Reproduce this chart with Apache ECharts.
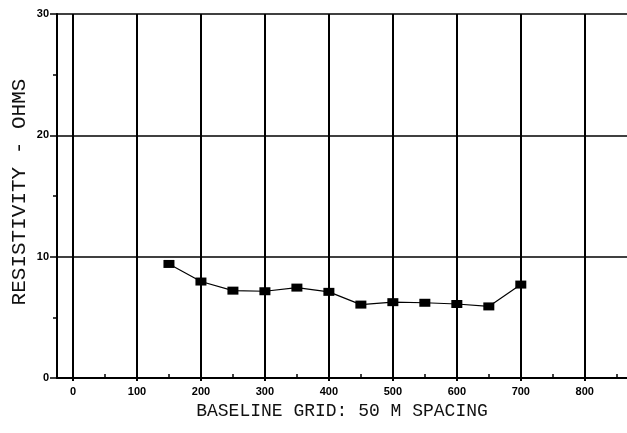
<!DOCTYPE html>
<html>
<head>
<meta charset="utf-8">
<script src="https://cdn.jsdelivr.net/npm/echarts@6/dist/echarts.min.js"></script>
<style>
  html, body { margin: 0; padding: 0; background: #fff; }
  #chart { width: 627px; height: 433px; }
</style>
</head>
<body>
<div id="chart"></div>
<script>
// Station positions along the baseline (m) and measured resistivity (ohms)
const stations = [150, 200, 250, 300, 350, 400, 450, 500, 550, 600, 650, 700];
const resistivity = [9.4, 7.95, 7.2, 7.15, 7.45, 7.1, 6.05, 6.25, 6.2, 6.1, 5.9, 7.7];

// Tick labels
const xMajorTicks = [0, 100, 200, 300, 400, 500, 600, 700, 800];
const xMinorTicks = [50, 150, 250, 350, 450, 550, 650, 750, 850];
const yTicks = [0, 10, 20, 30];

const xTitle = 'BASELINE GRID: 50 M SPACING';
const yTitle = 'RESISTIVITY - OHMS';

const chart = echarts.init(document.getElementById('chart'), null, { renderer: 'canvas' });

const tickFont = { fontFamily: 'Liberation Sans', fontWeight: 'bold', fontSize: 11, color: '#000' };
const titleFont = { fontFamily: 'Liberation Mono', fontSize: 18, color: '#111' };

chart.setOption({
  animation: false,
  backgroundColor: '#fff',
  grid: { left: 57, right: 0, top: 14, bottom: 55, containLabel: false, outerBoundsMode: 'none' },
  xAxis: [
    {
      type: 'value',
      min: -25,
      max: 866,
      name: xTitle,
      nameLocation: 'middle',
      nameGap: 24,
      nameMoveOverlap: false,
      nameTextStyle: titleFont,
      axisLine: { show: true, onZero: false, lineStyle: { color: '#000', width: 2 } },
      axisTick: { show: true, customValues: xMajorTicks, length: 3, lineStyle: { color: '#000', width: 2 } },
      axisLabel: { show: true, customValues: xMajorTicks, margin: 8, ...tickFont },
      splitLine: { show: true, lineStyle: { color: '#000', width: 2 } }
    },
    {
      // minor half-interval ticks on the baseline
      type: 'value',
      position: 'bottom',
      min: -25,
      max: 866,
      axisLine: { show: false, onZero: false },
      axisTick: { show: true, inside: true, customValues: xMinorTicks, length: 4, lineStyle: { color: '#000', width: 1.5 } },
      axisLabel: { show: false },
      splitLine: { show: false }
    }
  ],
  yAxis: {
    type: 'value',
    min: 0,
    max: 30,
    interval: 10,
    name: yTitle,
    nameLocation: 'middle',
    nameGap: 27,
    nameMoveOverlap: false,
    nameTextStyle: { ...titleFont, fontSize: 21, padding: [0, 0, 0, 8] },
    axisLine: { show: true, onZero: false, lineStyle: { color: '#000', width: 2 } },
    axisTick: { show: true, length: 7, lineStyle: { color: '#000', width: 1.5 } },
    minorTick: { show: true, splitNumber: 2, length: 4, lineStyle: { color: '#000', width: 1.5 } },
    axisLabel: { show: true, customValues: yTicks, margin: 8, ...tickFont },
    splitLine: { show: true, lineStyle: { color: '#000', width: 1.5 } }
  },
  series: [{
    type: 'line',
    data: stations.map((s, i) => [s, resistivity[i]]),
    symbol: 'rect',
    symbolSize: [11, 8],
    showSymbol: true,
    itemStyle: { color: '#000' },
    lineStyle: { color: '#000', width: 1.2 }
  }]
});
</script>
</body>
</html>
